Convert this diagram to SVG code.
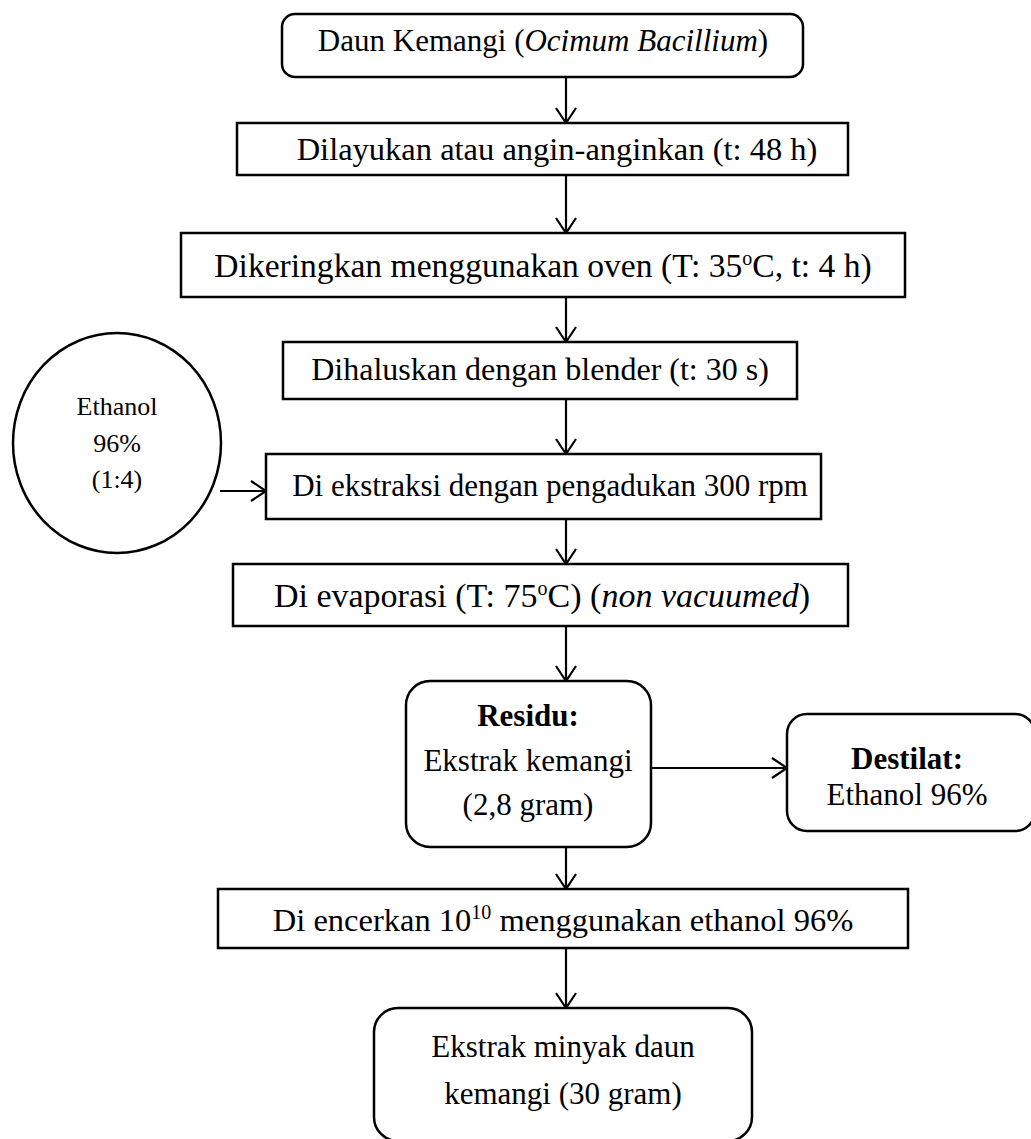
<svg xmlns="http://www.w3.org/2000/svg" width="1031" height="1139" viewBox="0 0 1031 1139">
<style>
.b{fill:#fff;stroke:#000;stroke-width:2.5}
.t{font-family:"Liberation Serif","Times New Roman",serif;font-size:31px;fill:#000;text-anchor:middle}
.s{font-size:26px}
.c{stroke:#000;stroke-width:2.2;fill:none}
.sup{font-size:20px}
</style>
<defs>
<marker id="ah" markerUnits="userSpaceOnUse" markerWidth="20" markerHeight="24" viewBox="0 0 20 24" refX="17" refY="12" orient="auto">
<path d="M2,2 L17,12 L2,22" fill="none" stroke="#000" stroke-width="2.2"/>
</marker>
</defs>
<rect width="1031" height="1139" fill="#fff"/>
<g id="connectors">
<line class="c" x1="566" y1="77" x2="566" y2="123" marker-end="url(#ah)"/>
<line class="c" x1="566" y1="175" x2="566" y2="233" marker-end="url(#ah)"/>
<line class="c" x1="566" y1="297" x2="566" y2="342" marker-end="url(#ah)"/>
<line class="c" x1="566" y1="399" x2="566" y2="454" marker-end="url(#ah)"/>
<line class="c" x1="220" y1="491" x2="266" y2="491" marker-end="url(#ah)"/>
<line class="c" x1="566" y1="519" x2="566" y2="564" marker-end="url(#ah)"/>
<line class="c" x1="566" y1="626" x2="566" y2="681" marker-end="url(#ah)"/>
<line class="c" x1="651" y1="768" x2="787" y2="768" marker-end="url(#ah)"/>
<line class="c" x1="566" y1="847" x2="566" y2="889" marker-end="url(#ah)"/>
<line class="c" x1="566" y1="948" x2="566" y2="1008" marker-end="url(#ah)"/>
</g>
<g id="n1">
<rect class="b" x="282" y="14" width="521" height="63" rx="13"/>
<text class="t" x="543" y="51">Daun Kemangi (<tspan font-style="italic">Ocimum Bacillium</tspan>)</text>
</g>
<g id="n2">
<rect class="b" x="237" y="123" width="611" height="52"/>
<text class="t" x="557" y="160" style="font-size:32.5px">Dilayukan atau angin-anginkan (t: 48 h)</text>
</g>
<g id="n3">
<rect class="b" x="181" y="233" width="724" height="64"/>
<text class="t" x="543" y="277" style="font-size:33.6px">Dikeringkan menggunakan oven (T: 35<tspan class="sup" dy="-12">o</tspan><tspan dy="12">C, t: 4 h)</tspan></text>
</g>
<g id="n4">
<rect class="b" x="283" y="342" width="514" height="57"/>
<text class="t" x="540" y="380" style="font-size:32px">Dihaluskan dengan blender (t: 30 s)</text>
</g>
<g id="n5">
<rect class="b" x="266" y="454" width="555" height="65"/>
<text class="t" x="550" y="496">Di ekstraksi dengan pengadukan 300 rpm</text>
</g>
<g id="n_ethanol">
<ellipse class="b" cx="117" cy="443" rx="104" ry="110"/>
<text class="t s" x="117" y="415">Ethanol</text>
<text class="t s" x="117" y="452">96%</text>
<text class="t s" x="117" y="488">(1:4)</text>
</g>
<g id="n6">
<rect class="b" x="233" y="564" width="615" height="62"/>
<text class="t" x="542" y="607" style="font-size:34px">Di evaporasi (T: 75<tspan class="sup" dy="-12">o</tspan><tspan dy="12">C) (</tspan><tspan font-style="italic">non vacuumed</tspan>)</text>
</g>
<g id="n_residu">
<rect class="b" x="406" y="681" width="245" height="166" rx="24"/>
<text class="t" x="528" y="726" font-weight="bold">Residu:</text>
<text class="t" x="528" y="771">Ekstrak kemangi</text>
<text class="t" x="528" y="815">(2,8 gram)</text>
</g>
<g id="n_destilat">
<rect class="b" x="787" y="714" width="248" height="117" rx="20"/>
<text class="t" x="907" y="769" font-weight="bold">Destilat:</text>
<text class="t" x="907" y="805">Ethanol 96%</text>
</g>
<g id="n8">
<rect class="b" x="218" y="889" width="690" height="59"/>
<text class="t" x="563" y="931" style="font-size:32.5px">Di encerkan 10<tspan class="sup" dy="-12">10</tspan><tspan dy="12"> menggunakan ethanol 96%</tspan></text>
</g>
<g id="n9">
<rect class="b" x="374" y="1008" width="378" height="133" rx="24"/>
<text class="t" x="563" y="1057">Ekstrak minyak daun</text>
<text class="t" x="563" y="1104">kemangi (30 gram)</text>
</g>
</svg>
